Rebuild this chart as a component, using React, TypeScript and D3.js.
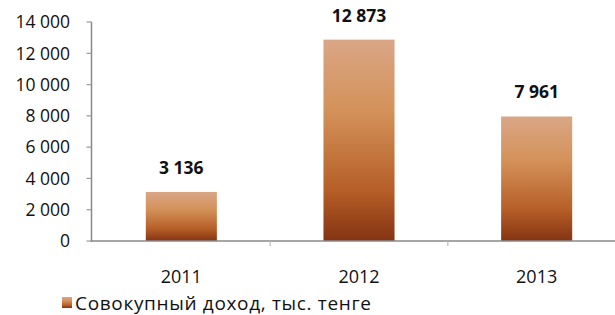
import * as d3 from 'd3';

const years = ['2011', '2012', '2013'];
const income = [3136, 12873, 7961];
const yTicks = [0, 2000, 4000, 6000, 8000, 10000, 12000, 14000];
const legendLabel = 'Совокупный доход, тыс. тенге';

const W = 615;
const H = 315;
const margin = { left: 92.5, top: 22, bottom: 241 };
const font = '"Open Sans", "Liberation Sans", sans-serif';

const fmt = (v: number) => d3.format(',')(v).replace(/,/g, ' ');

export default function App() {
  const x = d3
    .scaleBand<string>()
    .domain(years)
    .range([margin.left, margin.left + 533])
    .paddingInner(0.6)
    .paddingOuter(0.3);

  const y = d3.scaleLinear().domain([0, 14000]).range([margin.bottom, margin.top]);

  const step = x.step();

  return (
    <svg
      width={W}
      height={H}
      style={{ position: 'absolute', left: 0, top: 0, background: '#fff' }}
      fontFamily={font}
    >
      <defs>
        <linearGradient id="barGrad" x1="0" y1="0" x2="0" y2="1">
          <stop offset="0%" stopColor="#d9a686" />
          <stop offset="35%" stopColor="#d4925a" />
          <stop offset="75%" stopColor="#b65e28" />
          <stop offset="100%" stopColor="#843412" />
        </linearGradient>
      </defs>

      {/* y axis */}
      <line x1={margin.left - 1} x2={margin.left - 1} y1={y(14000)} y2={y(0) + 1} stroke="#888" strokeWidth={1.5} />
      {yTicks.map((t) => (
        <g key={t}>
          <line x1={margin.left - 6} x2={margin.left - 1} y1={y(t)} y2={y(t)} stroke="#999" strokeWidth={1.2} />
          <text x={70} y={y(t)} dy="0.36em" textAnchor="end" fontSize={17.5} fill="#111">
            {fmt(t)}
          </text>
        </g>
      ))}

      {/* bars */}
      {years.map((yr, i) => (
        <g key={yr}>
          <rect
            x={x(yr)!}
            y={y(income[i])}
            width={x.bandwidth()}
            height={y(0) - y(income[i])}
            fill="url(#barGrad)"
          />
          <text
            x={x(yr)! + x.bandwidth() / 2}
            y={y(income[i]) - 18}
            textAnchor="middle"
            fontSize={17.5}
            fontWeight="bold"
            fill="#111"
          >
            {fmt(income[i])}
          </text>
          <text
            x={x(yr)! + x.bandwidth() / 2}
            y={283}
            textAnchor="middle"
            fontSize={18}
            fill="#111"
          >
            {yr}
          </text>
        </g>
      ))}

      {/* x axis */}
      <line x1={margin.left - 1} x2={W} y1={y(0)} y2={y(0)} stroke="#888" strokeWidth={1.5} />
      {years.slice(1).map((yr) => (
        <line
          key={yr}
          x1={x(yr)! - (step - x.bandwidth()) / 2}
          x2={x(yr)! - (step - x.bandwidth()) / 2}
          y1={y(0)}
          y2={y(0) + 5}
          stroke="#bbb"
          strokeWidth={1.2}
        />
      ))}

      {/* legend */}
      <rect x={62} y={297} width={10} height={11} fill="url(#barGrad)" />
      <text x={75} y={309.5} fontSize={19} fill="#111" textLength={296} lengthAdjust="spacing">
        {legendLabel}
      </text>
    </svg>
  );
}
